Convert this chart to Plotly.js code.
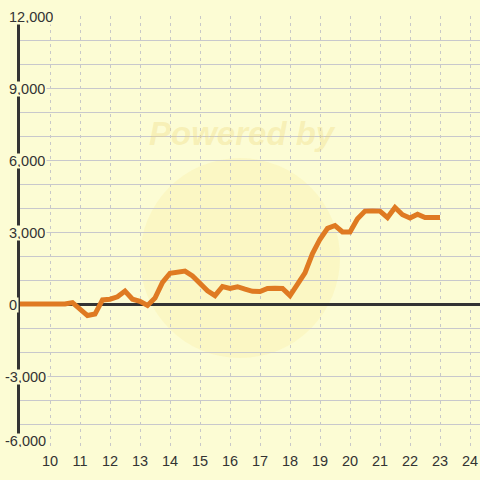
<!DOCTYPE html>
<html>
<head>
<meta charset="utf-8">
<script src="https://cdn.plot.ly/plotly-3.0.1.min.js"></script>
<style>html,body{margin:0;padding:0;background:#fcfcd4;}#chart{width:480px;height:480px;}</style>
</head>
<body>
<div id="chart"></div>
<script>
// data
var hours = [9.0, 9.25, 9.5, 9.75, 10.0, 10.25, 10.5, 10.75, 11.0, 11.25, 11.5, 11.75,
  12.0, 12.25, 12.5, 12.75, 13.0, 13.25, 13.5, 13.75, 14.0, 14.25, 14.5, 14.75,
  15.0, 15.25, 15.5, 15.75, 16.0, 16.25, 16.5, 16.75, 17.0, 17.25, 17.5, 17.75,
  18.0, 18.25, 18.5, 18.75, 19.0, 19.25, 19.5, 19.75, 20.0, 20.25, 20.5, 20.75,
  21.0, 21.25, 21.5, 21.75, 22.0, 22.25, 22.5, 22.75, 23.0];
var values = [0, 0, 0, 0, 0, 0, 0, 60, -200, -480, -420, 170,
  200, 300, 540, 200, 110, -60, 250, 900, 1280, 1300, 1370, 1170,
  850, 550, 350, 730, 650, 720, 620, 530, 520, 650, 660, 650,
  350, 800, 1300, 2100, 2700, 3150, 3270, 3000, 3000, 3550, 3870, 3880,
  3870, 3600, 4020, 3720, 3580, 3740, 3600, 3600, 3600];
var xTicks = [10, 11, 12, 13, 14, 15, 16, 17, 18, 19, 20, 21, 22, 23, 24];
var xTickText = ["10","11","12","13","14","15","16","17","18","19","20","21","22","23","24"];
var yTicks = [12000, 9000, 6000, 3000, 0, -3000, -6000];
var yTickText = ["12,000", "9,000", "6,000", "3,000", "0", "-3,000", "-6,000"];
var watermark = "Powered by";

var BG = '#fcfcd4';
var TXT = '#333333';
var plotW = 460;

var annotations = yTicks.map(function(v, i) {
  var t = yTickText[i];
  var px = t.charAt(0) === '-' ? 2.5 : 7;
  var last = (i === yTicks.length - 1);
  return {
    xref: 'paper', yref: 'y', x: (px - 20) / plotW, y: v,
    xanchor: 'left', yanchor: 'middle', showarrow: false,
    yshift: last ? 7 : -1,
    text: t, bgcolor: BG, borderpad: 1, height: 12,
    font: {family: 'Liberation Sans, Arial, sans-serif', size: 14.5, color: TXT}
  };
});
annotations.unshift({
  xref: 'paper', yref: 'paper', x: (242 - 20) / plotW, y: (448 - 133) / 432,
  xanchor: 'center', yanchor: 'middle', showarrow: false,
  text: '<b><i>' + watermark + '</i></b>',
  font: {family: 'Liberation Sans, Arial, sans-serif', size: 33, color: 'rgba(238,215,120,0.32)'}
});

var trace = {
  x: hours, y: values, type: 'scatter', mode: 'lines',
  line: {color: '#df7a22', width: 5, shape: 'linear'},
  hoverinfo: 'none'
};

var layout = {
  width: 480, height: 480,
  margin: {l: 20, r: 0, t: 16, b: 32, pad: 0},
  paper_bgcolor: BG, plot_bgcolor: BG,
  showlegend: false,
  font: {family: 'Liberation Sans, Arial, sans-serif', size: 14.5, color: TXT},
  xaxis: {
    range: [9, 24.3333], tickvals: xTicks, ticktext: xTickText,
    showgrid: true, gridcolor: '#c8c8c8', griddash: '3px,4px', gridwidth: 1,
    zeroline: false, showline: false, ticks: '',
    tickfont: {size: 14.5, color: TXT}, ticklabelstandoff: 2, fixedrange: true
  },
  yaxis: {
    range: [-6000, 12000], dtick: 1000, tick0: 0,
    showticklabels: false, ticks: '',
    showgrid: true, gridcolor: '#c8c8cc', gridwidth: 1,
    zeroline: true, zerolinecolor: '#333333', zerolinewidth: 3,
    showline: true, linecolor: '#333333', linewidth: 3, fixedrange: true
  },
  shapes: [{
    type: 'circle', xref: 'paper', yref: 'paper', layer: 'below',
    x0: (140 - 20) / plotW, x1: (340 - 20) / plotW,
    y0: (448 - 358) / 432, y1: (448 - 158) / 432,
    fillcolor: 'rgba(248,225,120,0.17)', line: {width: 0}
  }],
  annotations: annotations
};

Plotly.newPlot('chart', [trace], layout, {staticPlot: true, displayModeBar: false});
</script>
</body>
</html>
